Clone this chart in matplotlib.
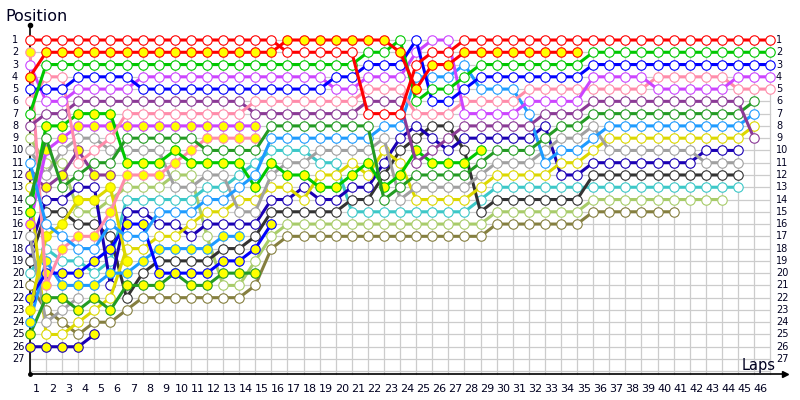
import matplotlib
matplotlib.use('Agg')
import matplotlib.pyplot as plt

# positions per lap (index 0 = grid)
red_w = [1,1,1,1,1,1,1,1,1,1,1,1,1,1,1,1,2,2,2,2,2,7,7,7,3,2,2,1,1,1,1,1,1,1,1,1,1,1,1,1,1,1,1,1,1,1,1]
red_y = [4,2,2,2,2,2,2,2,2,2,2,2,2,2,2,2,1,1,1,1,1,1,1,2,5,3,3,2,2,2,2,2,2,2,2]
green_w = [7,3,3,3,3,3,3,3,3,3,3,3,3,3,3,3,3,3,3,3,3,2,2,1,6,5,5,4,3,3,3,3,3,3,3,2,2,2,2,2,2,2,2,2,2,2,2]
blue_w = [5,5,5,4,4,4,4,5,5,5,5,5,5,5,5,5,5,5,5,4,4,3,3,3,1,6,6,5,4,4,4,4,4,4,4,3,3,3,3,3,3,3,3,3,3,3,3]
magenta_w = [3,6,6,5,5,5,5,4,4,4,4,4,4,4,4,4,4,4,4,5,5,4,4,4,2,1,1,7,7,7,7,6,6,6,6,4,4,4,4,5,5,5,5,5,4,4,4]
pink_w = [6,4,4,11,10,9,7,7,7,7,7,7,7,7,6,6,6,6,6,6,6,5,5,5,7,7,7,6,6,6,6,5,5,5,5,5,5,5,5,4,4,4,4,4,5,5,5]
purple_w = [8,7,7,6,6,6,6,6,6,6,6,6,6,6,7,7,7,7,7,7,7,6,6,6,11,10,9,8,8,8,8,8,7,7,7,6,6,6,6,6,6,6,6,6,6,9]
dkgreen_w = [14,9,13,12,11,11,9,9,9,9,9,10,10,10,10,8,8,8,8,8,8,8,14,13,12,12,12,12,11,10,10,10,9,8,8,7,7,7,7,7,7,7,7,7,7,6]
azure_w = [11,16,17,18,18,16,17,17,15,15,15,14,14,13,12,9,9,9,9,9,9,9,8,8,4,4,4,3,5,5,5,7,11,10,10,9,8,8,8,8,8,8,8,8,8,7]
ltgreen_w = [9,11,11,15,15,14,13,13,13,12,12,17,21,21,19,17,16,16,16,16,16,16,16,16,16,16,16,16,16,15,15,15,15,15,15,14,14,14,14,14,14,14,14,14]
olive_w = [21,23,24,25,24,24,23,22,22,22,22,22,22,22,21,18,17,17,17,17,17,17,17,17,17,17,17,17,17,16,16,16,16,16,16,15,15,15,15,15,15]
grey_w = [10,12,10,9,9,10,10,10,10,13,13,12,12,15,15,12,11,11,10,10,10,10,9,14,13,13,13,13,12,11,11,11,10,9,9,8,10,10,10,10,10,10,11,11,11]
yellow_w = [13,25,25,24,23,22,18,18,17,17,16,15,15,14,14,13,13,14,12,12,11,12,10,11,14,14,14,14,13,12,12,12,12,11,11,10,9,9,9,9,9,9,9,9,9,8]
black_w = [19,15,15,16,16,17,22,20,19,19,19,19,18,18,17,15,15,15,15,15,14,14,12,10,9,8,8,10,15,14,14,14,14,14,14,12,12,12,12,12,12,12,12,12,12]
cyan_w = [20,18,19,19,20,19,14,14,14,14,14,13,13,12,11,10,10,10,11,11,15,15,15,15,15,15,15,15,14,13,13,13,13,13,13,13,13,13,13,13,13,13,13,13,13]
dkblue_w = [18,14,14,13,13,21,15,15,16,16,17,16,16,16,16,14,14,13,14,14,13,13,11,9,8,9,10,9,9,9,9,9,8,12,12,11,11,11,11,11,11,11,10,10,10]
green_y = [15,8,8,7,7,7,11,11,11,10,11,11,11,11,13,11,12,12,13,13,12,11,13,12,10,11,11,11,10]
magenta_y = [16,10,9,8,8,8,8,8,8,8,8,8,8,8,8]
pink_y = [2,21,18,17,17,15,12,12,12,11,10,9,9,9,9]
purple_y = [12,13,12,10,12,12]
grey_2 = [17,24,23,22]
yellow_y = [23,17,16,14,14,13,19]
blue_y = [22,20,20,20,19,18,16,16,20,20,20,20,19,19,18,16]
azure_y = [24,19,21,21,21,20,20,19,18,18,18,18,17,17]
dkgreen_y = [25,22,22,23,22,23,21,21,21,20,21,21,20,20,20]
dkblue_y = [26,26,26,26,25]

drivers = [
    (olive_w, '#857f3f', 'white'),
    (ltgreen_w, '#a8cc6a', 'white'),
    (cyan_w, '#3cc8c8', 'white'),
    (black_w, '#333333', 'white'),
    (dkblue_w, '#1a00b4', 'white'),
    (yellow_w, '#dcd800', 'white'),
    (grey_w, '#a0a0a0', 'white'),
    (grey_2, '#a0a0a0', 'white'),
    (dkblue_y, '#1a00b4', '#ffff00'),
    (dkgreen_y, '#239b23', '#ffff00'),
    (azure_y, '#1e9bff', '#ffff00'),
    (blue_y, '#0000ff', '#ffff00'),
    (yellow_y, '#dcd800', '#ffff00'),
    (purple_y, '#8b3a96', '#ffff00'),
    (pink_y, '#ff8caa', '#ffff00'),
    (magenta_y, '#cc44ff', '#ffff00'),
    (green_y, '#00c800', '#ffff00'),
    (azure_w, '#1e9bff', 'white'),
    (dkgreen_w, '#239b23', 'white'),
    (purple_w, '#8b3a96', 'white'),
    (pink_w, '#ff8caa', 'white'),
    (magenta_w, '#cc44ff', 'white'),
    (blue_w, '#0000ff', 'white'),
    (green_w, '#00c800', 'white'),
    (red_y, '#ff0000', '#ffff00'),
    (red_w, '#ff0000', 'white'),
]

n_laps = 46
n_pos = 27

fig = plt.figure(figsize=(8, 4), dpi=100)
ax = fig.add_axes([0, 0, 1, 1])
ax.axis('off')
ax.set_xlim(-30 / 16.09, 770 / 16.09)
ax.set_ylim(1 + 360 / 12.27, 1 - 40 / 12.27)

grid_c = '#cccccc'
for lap in range(n_laps + 1):
    ax.plot([lap, lap], [1, 28.2], color=grid_c, lw=0.9, zorder=1)
for p in range(1, n_pos + 2):
    ax.plot([0, n_laps], [p, p], color=grid_c, lw=0.9, zorder=1)

# axes with arrows
ax.plot([0, 0], [-0.2, 28.2], color='black', lw=1.2, zorder=2)
ax.plot([0, 46.9], [28.2, 28.2], color='black', lw=1.2, zorder=2)
ax.plot([0], [-0.2], marker='o', ms=3, color='black', zorder=2)
ax.plot([46.9], [28.2], marker='>', ms=5, color='black', zorder=2)
ax.plot([0], [28.2], marker='o', ms=2.5, color='black', zorder=2)

for p in range(1, n_pos + 1):
    ax.text(-1.12, p, str(p), fontsize=7, ha='left', va='center', color='#000020')
    ax.text(46.36, p, str(p), fontsize=7, ha='left', va='center', color='#000020')
for k in range(1, n_laps + 1):
    ax.text(k - 0.58, 29.45, str(k), fontsize=8, ha='center', va='center', color='#000020')

ax.text(-1.55, -0.95, 'Position', fontsize=11.5, ha='left', va='center', color='#000020')
ax.text(44.2, 27.55, 'Laps', fontsize=10.5, ha='left', va='center', color='#000020')

for pos, col, fill in drivers:
    ax.plot(range(len(pos)), pos, color=col, lw=2.2, marker='o', ms=6.8,
            mfc=fill, mec=col, mew=0.8, zorder=3, solid_joinstyle='round')

fig.savefig('out.png', dpi=100)
